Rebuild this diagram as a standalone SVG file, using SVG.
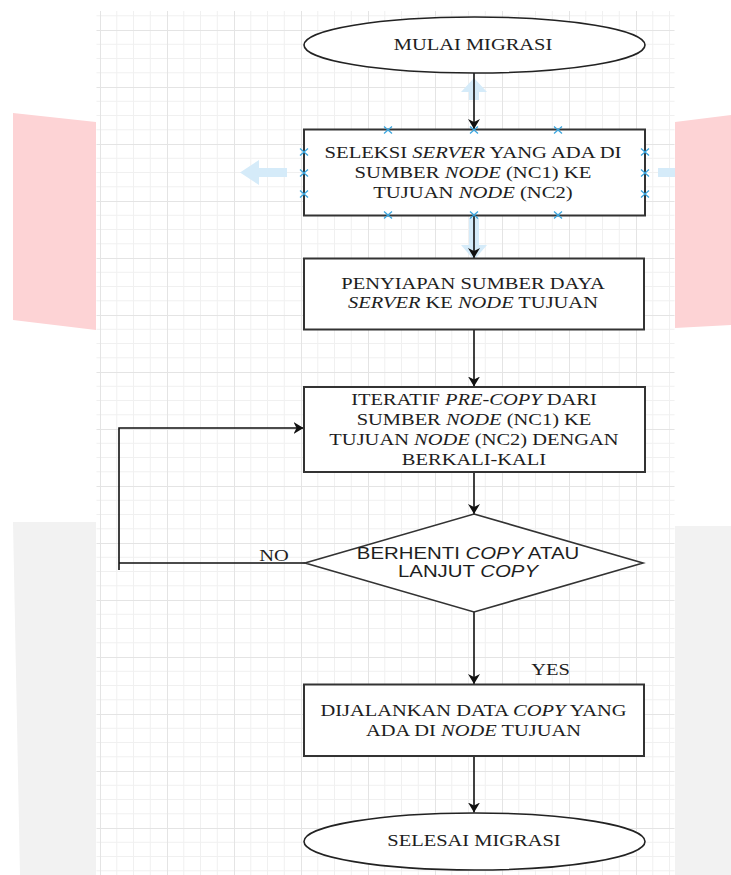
<svg xmlns="http://www.w3.org/2000/svg" xmlns:xlink="http://www.w3.org/1999/xlink" width="731" height="875" viewBox="0 0 731 875">
<style>
.t{font-family:"Liberation Serif","Times New Roman",serif;font-size:17.5px;fill:#1e1e1e;text-anchor:middle}
.s{font-family:"Liberation Sans",Arial,sans-serif;font-size:17px;fill:#1e1e1e;text-anchor:middle}
.i{font-style:italic}
.box{fill:#ffffff;stroke:#333333;stroke-width:2}
.ell{fill:#ffffff;stroke:#222222;stroke-width:1.6}
.con{fill:none;stroke:#111111;stroke-width:1.6}
.hov{fill:#d5ebf9}
.xm{fill:none;stroke:#3aa6df;stroke-width:1.3}
.minor{stroke:#f0f0f0;stroke-width:1}
.major{stroke:#e4e4e4;stroke-width:1}
</style>
<defs>
<marker id="arr" markerUnits="userSpaceOnUse" viewBox="0 0 10 12" markerWidth="10" markerHeight="12" refX="10" refY="6" orient="auto">
<path d="M0,0 L10,6 L0,12 L3,6 Z" fill="#111111"/>
</marker>
<pattern id="grid" patternUnits="userSpaceOnUse" x="100" y="30" width="67" height="57">
<path class="minor" d="M16.75,0V57M33.5,0V57M50.25,0V57M0,14.25H67M0,28.5H67M0,42.75H67"/>
<path class="major" d="M0.5,0V57M0,0.5H67"/>
</pattern>
<path id="x" class="xm" d="M-4,-3.5L4,3.5M-4,3.5L4,-3.5"/>
</defs>

<g id="background">
<rect x="0" y="0" width="731" height="875" fill="#ffffff"/>
<path d="M13,113 L96,122 L96,330 L13,320 Z" fill="#fdd3d5"/>
<path d="M675,122 L731,115 L731,325 L675,328 Z" fill="#fdd3d5"/>
<path d="M13,522 L96,522 L96,875 L20,875 Z" fill="#f2f2f2"/>
<path d="M675,526 L731,526 L731,875 L675,875 Z" fill="#f2f2f2"/>
<rect x="96.5" y="11" width="578" height="864" fill="#ffffff"/>
<rect x="96.5" y="11" width="578" height="864" fill="url(#grid)"/>
</g>

<g id="hover-arrows">
<path class="hov" d="M474,78 L487,92 L479,92 L479,100 L469,100 L469,92 L461,92 Z"/>
<path class="hov" d="M240,172.5 L259,160 L259,168 L287,168 L287,177 L259,177 L259,185 Z"/>
<path class="hov" d="M658,168 L675,168 L675,177 L658,177 Z"/>
<path class="hov" d="M469,218 L479,218 L479,245 L487,245 L474,260 L461,245 L469,245 Z"/>
</g>

<g id="connectors">
<path class="con" d="M474,73 V129" marker-end="url(#arr)"/>
<path class="con" d="M474,216 V258" marker-end="url(#arr)"/>
<path class="con" d="M474,329 V386.5" marker-end="url(#arr)"/>
<path class="con" d="M474,472 V514" marker-end="url(#arr)"/>
<path class="con" d="M305,563 H119 M119,570 V428 H303.5" marker-end="url(#arr)"/>
<path class="con" d="M474,612 V684" marker-end="url(#arr)"/>
<path class="con" d="M474,756 V812.5" marker-end="url(#arr)"/>
<text class="t" transform="translate(274 0) scale(1.17 1)" x="0" y="561">NO</text>
<text class="t" transform="translate(550.5 0) scale(1.17 1)" x="0" y="675.5">YES</text>
</g>

<g id="start">
<ellipse class="ell" cx="474.5" cy="45" rx="170.5" ry="28"/>
<text class="t" transform="translate(473 0) scale(1.17 1)" x="0" y="50">MULAI MIGRASI</text>
</g>

<g id="select-server">
<rect class="box" x="304" y="129.5" width="341" height="86"/>
<g transform="translate(473 0) scale(1.18 1)">
<text class="t" x="0" y="158.3">SELEKSI <tspan class="i">SERVER</tspan> YANG ADA DI</text>
<text class="t" x="0" y="178.3">SUMBER <tspan class="i">NODE</tspan> (NC1) KE</text>
<text class="t" x="0" y="198">TUJUAN <tspan class="i">NODE</tspan> (NC2)</text>
</g>
<use xlink:href="#x" x="388" y="130"/>
<use xlink:href="#x" x="474" y="130"/>
<use xlink:href="#x" x="558" y="130"/>
<use xlink:href="#x" x="388" y="215"/>
<use xlink:href="#x" x="474" y="215"/>
<use xlink:href="#x" x="558" y="215"/>
<use xlink:href="#x" x="304" y="152"/>
<use xlink:href="#x" x="304" y="173"/>
<use xlink:href="#x" x="304" y="194"/>
<use xlink:href="#x" x="645" y="152"/>
<use xlink:href="#x" x="645" y="173"/>
<use xlink:href="#x" x="645" y="194"/>
</g>

<g id="prepare-resources">
<rect class="box" x="304" y="258.5" width="340" height="71"/>
<g transform="translate(473 0) scale(1.17 1)">
<text class="t" x="0" y="289">PENYIAPAN SUMBER DAYA</text>
<text class="t" x="0" y="308.5"><tspan class="i">SERVER</tspan> KE <tspan class="i">NODE</tspan> TUJUAN</text>
</g>
</g>

<g id="iterative-precopy">
<rect class="box" x="304" y="387" width="341" height="85"/>
<g transform="translate(474 0) scale(1.17 1)">
<text class="t" x="0" y="405">ITERATIF <tspan class="i">PRE-COPY</tspan> DARI</text>
<text class="t" x="0" y="425">SUMBER <tspan class="i">NODE</tspan> (NC1) KE</text>
<text class="t" x="0" y="445">TUJUAN <tspan class="i">NODE</tspan> (NC2) DENGAN</text>
<text class="t" x="0" y="465">BERKALI-KALI</text>
</g>
</g>

<g id="decision">
<path class="box" d="M474,514 L643,563 L474,612 L305,563 Z" style="stroke-width:1.6"/>
<g transform="translate(468 0) scale(1.2 1)">
<text class="s" x="0" y="559.5">BERHENTI <tspan class="i">COPY</tspan> ATAU</text>
<text class="s" x="0" y="577.5">LANJUT <tspan class="i">COPY</tspan></text>
</g>
</g>

<g id="run-copy">
<rect class="box" x="304" y="684.5" width="340" height="71.5"/>
<g transform="translate(473.5 0) scale(1.17 1)">
<text class="t" x="0" y="716">DIJALANKAN DATA <tspan class="i">COPY</tspan> YANG</text>
<text class="t" x="0" y="736">ADA DI <tspan class="i">NODE</tspan> TUJUAN</text>
</g>
</g>

<g id="end">
<ellipse class="ell" cx="474.5" cy="841.5" rx="170.5" ry="28.5"/>
<text class="t" transform="translate(474 0) scale(1.17 1)" x="0" y="846.5">SELESAI MIGRASI</text>
</g>
</svg>
